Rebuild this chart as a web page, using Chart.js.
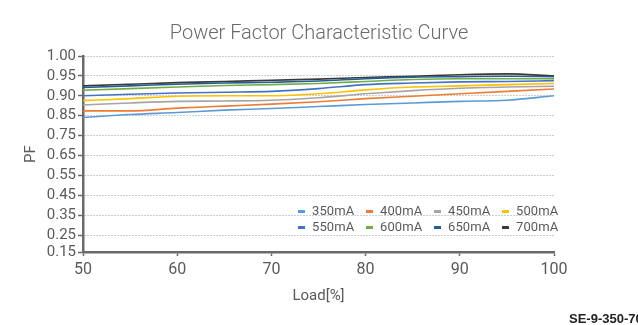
<!DOCTYPE html>
<html>
<head>
<meta charset="utf-8">
<script src="https://cdn.jsdelivr.net/npm/chart.js@4.4.1/dist/chart.umd.min.js"></script>
<style>
  html, body { margin: 0; padding: 0; background: #fff; overflow: hidden; width: 638px; height: 325px; }
  #wrap { position: relative; width: 638px; height: 325px; overflow: hidden; }
  #model { position: absolute; left: 569px; top: 311px; font: bold 13px "Liberation Sans", Arial, sans-serif; color: #222; white-space: nowrap; }
</style>
</head>
<body>
<div id="wrap">
  <canvas id="c" width="638" height="325"></canvas>
  <div id="model">SE-9-350-700</div>
</div>
<script>
// Load points (%) where PF was measured
const loads = [50, 55, 60, 65, 70, 75, 80, 85, 90, 95, 100];

// Power factor per drive current
const pf350 = [0.841, 0.853, 0.858, 0.864, 0.868, 0.873, 0.878, 0.882, 0.886, 0.889, 0.900];
const pf400 = [0.862, 0.862, 0.869, 0.874, 0.879, 0.885, 0.893, 0.899, 0.905, 0.911, 0.917];
const pf450 = [0.877, 0.882, 0.886, 0.887, 0.889, 0.895, 0.905, 0.913, 0.919, 0.922, 0.924];
const pf500 = [0.888, 0.893, 0.899, 0.900, 0.900, 0.905, 0.915, 0.922, 0.925, 0.928, 0.931];
const pf550 = [0.900, 0.904, 0.907, 0.909, 0.911, 0.918, 0.928, 0.932, 0.935, 0.936, 0.938];
const pf600 = [0.914, 0.918, 0.922, 0.926, 0.928, 0.931, 0.936, 0.941, 0.943, 0.943, 0.943];
const pf650 = [0.921, 0.925, 0.929, 0.932, 0.934, 0.937, 0.943, 0.947, 0.948, 0.949, 0.948];
const pf700 = [0.925, 0.929, 0.933, 0.936, 0.939, 0.942, 0.946, 0.949, 0.953, 0.955, 0.950];

const seriesLabels = ['350mA', '400mA', '450mA', '500mA', '550mA', '600mA', '650mA', '700mA'];
const seriesValues = [pf350, pf400, pf450, pf500, pf550, pf600, pf650, pf700];
const seriesColors = ['#5B9BD5', '#ED7D31', '#A5A5A5', '#FFC000', '#4472C4', '#70AD47', '#255E91', '#3A3A3A'];

// PF axis tick labels (upper range is expanded)
const yTickValues = [0.15, 0.25, 0.35, 0.45, 0.55, 0.65, 0.75, 0.85, 0.90, 0.95, 1.00];
const xTickValues = [50, 60, 70, 80, 90, 100];

const textGray = '#5a5a5a';
const axisGray = '#6a6a6a';
const fontFamily = 'Roboto, "Noto Sans", sans-serif';

// Linear scale whose tick intervals are laid out by weight instead of by value,
// so the PF range near 1.0 gets more room than the low range.
class BandedScale extends Chart.LinearScale {
  static id = 'banded';
  static defaults = {};
  buildTicks() {
    return this.options.tickValues.map(v => ({ value: v }));
  }
  _bands() {
    const t = this.options.tickValues;
    const w = this.options.bandWeights;
    const cum = [0];
    for (let i = 0; i < t.length - 1; i++) cum.push(cum[i] + w[i]);
    return { t, w, cum, total: cum[cum.length - 1] };
  }
  getPixelForValue(value) {
    const { t, w, cum, total } = this._bands();
    let i = 0;
    while (i < t.length - 2 && value > t[i + 1]) i++;
    const frac = (cum[i] + (value - t[i]) / (t[i + 1] - t[i]) * w[i]) / total;
    return this.getPixelForDecimal(frac);
  }
  getValueForPixel(pixel) {
    const { t, w, cum, total } = this._bands();
    const pos = this.getDecimalForPixel(pixel) * total;
    let i = 0;
    while (i < t.length - 2 && pos > cum[i + 1]) i++;
    return t[i] + (pos - cum[i]) / w[i] * (t[i + 1] - t[i]);
  }
}
Chart.register(BandedScale);

// Centre the title over the whole canvas rather than the padded layout area
const fullWidthTitle = {
  id: 'fullWidthTitle',
  afterLayout(chart) {
    if (chart.titleBlock) {
      chart.titleBlock.left = 0;
      chart.titleBlock.right = chart.width;
      chart.titleBlock.width = chart.width;
    }
  }
};

// Two-row legend drawn inside the plot's lower right corner
const insideLegend = {
  id: 'insideLegend',
  afterDatasetsDraw(chart) {
    const { ctx, chartArea } = chart;
    const cols = 4;
    ctx.save();
    ctx.font = '13px ' + fontFamily;
    ctx.letterSpacing = '0.1px';
    ctx.textBaseline = 'middle';
    ctx.textAlign = 'left';
    chart.data.datasets.forEach((ds, i) => {
      const row = Math.floor(i / cols), col = i % cols;
      const x = chartArea.left + 215 + col * 68;
      const y = chartArea.top + 155 + row * 16;
      ctx.fillStyle = ds.borderColor;
      ctx.fillRect(x, y - 1, 7, 3);
      ctx.fillStyle = textGray;
      ctx.fillText(ds.label, x + 14, y + 0.5);
    });
    ctx.restore();
  }
};

new Chart(document.getElementById('c'), {
  type: 'line',
  data: {
    datasets: seriesLabels.map((label, i) => ({
      label,
      data: loads.map((x, j) => ({ x, y: seriesValues[i][j] })),
      borderColor: seriesColors[i],
      backgroundColor: seriesColors[i],
      borderWidth: 1.6,
      pointRadius: 0,
      tension: 0.3,
      cubicInterpolationMode: 'monotone',
      fill: false
    }))
  },
  options: {
    responsive: false,
    animation: false,
    devicePixelRatio: 1,
    layout: { padding: { left: 0, right: 84, top: 0, bottom: 0 } },
    plugins: {
      legend: { display: false },
      tooltip: { enabled: false },
      title: {
        display: true,
        text: 'Power Factor Characteristic Curve',
        color: '#6a6a6a',
        font: { family: fontFamily, size: 20, weight: '300' },
        padding: { top: 22, bottom: 10 }
      }
    },
    scales: {
      x: {
        type: 'linear',
        min: 50,
        max: 100,
        afterBuildTicks: s => { s.ticks = xTickValues.map(v => ({ value: v })); },
        afterFit: s => { s.height = 73; },
        ticks: { color: textGray, font: { family: fontFamily, size: 16 }, padding: 4, maxRotation: 0 },
        grid: { drawOnChartArea: false, drawTicks: true, tickLength: 4, tickColor: axisGray, tickWidth: 1.5 },
        border: { display: true, color: axisGray, width: 2.5 },
        title: { display: true, text: 'Load[%]', color: textGray, font: { family: fontFamily, size: 15 }, padding: { top: 0, bottom: 20 } }
      },
      y: {
        type: 'banded',
        min: 0.15,
        max: 1.0,
        tickValues: yTickValues,
        bandWeights: [0.85, 1, 1, 1, 1, 1, 1, 1, 1, 1],
        afterFit: s => { s.width = 83; },
        ticks: { color: textGray, font: { family: fontFamily, size: 15 }, padding: 2, autoSkip: false,
                 callback: v => Number(v).toFixed(2) },
        grid: { drawOnChartArea: true, color: '#9a9a9a', lineWidth: 1, drawTicks: true, tickLength: 5,
                tickColor: axisGray, tickWidth: 1.5, tickBorderDash: [] },
        border: { display: true, color: axisGray, width: 2.5, dash: [1, 2] },
        title: { display: true, text: 'PF', color: textGray, font: { family: fontFamily, size: 15 }, padding: { top: 22 } }
      }
    }
  },
  plugins: [fullWidthTitle, insideLegend]
});
</script>
</body>
</html>
